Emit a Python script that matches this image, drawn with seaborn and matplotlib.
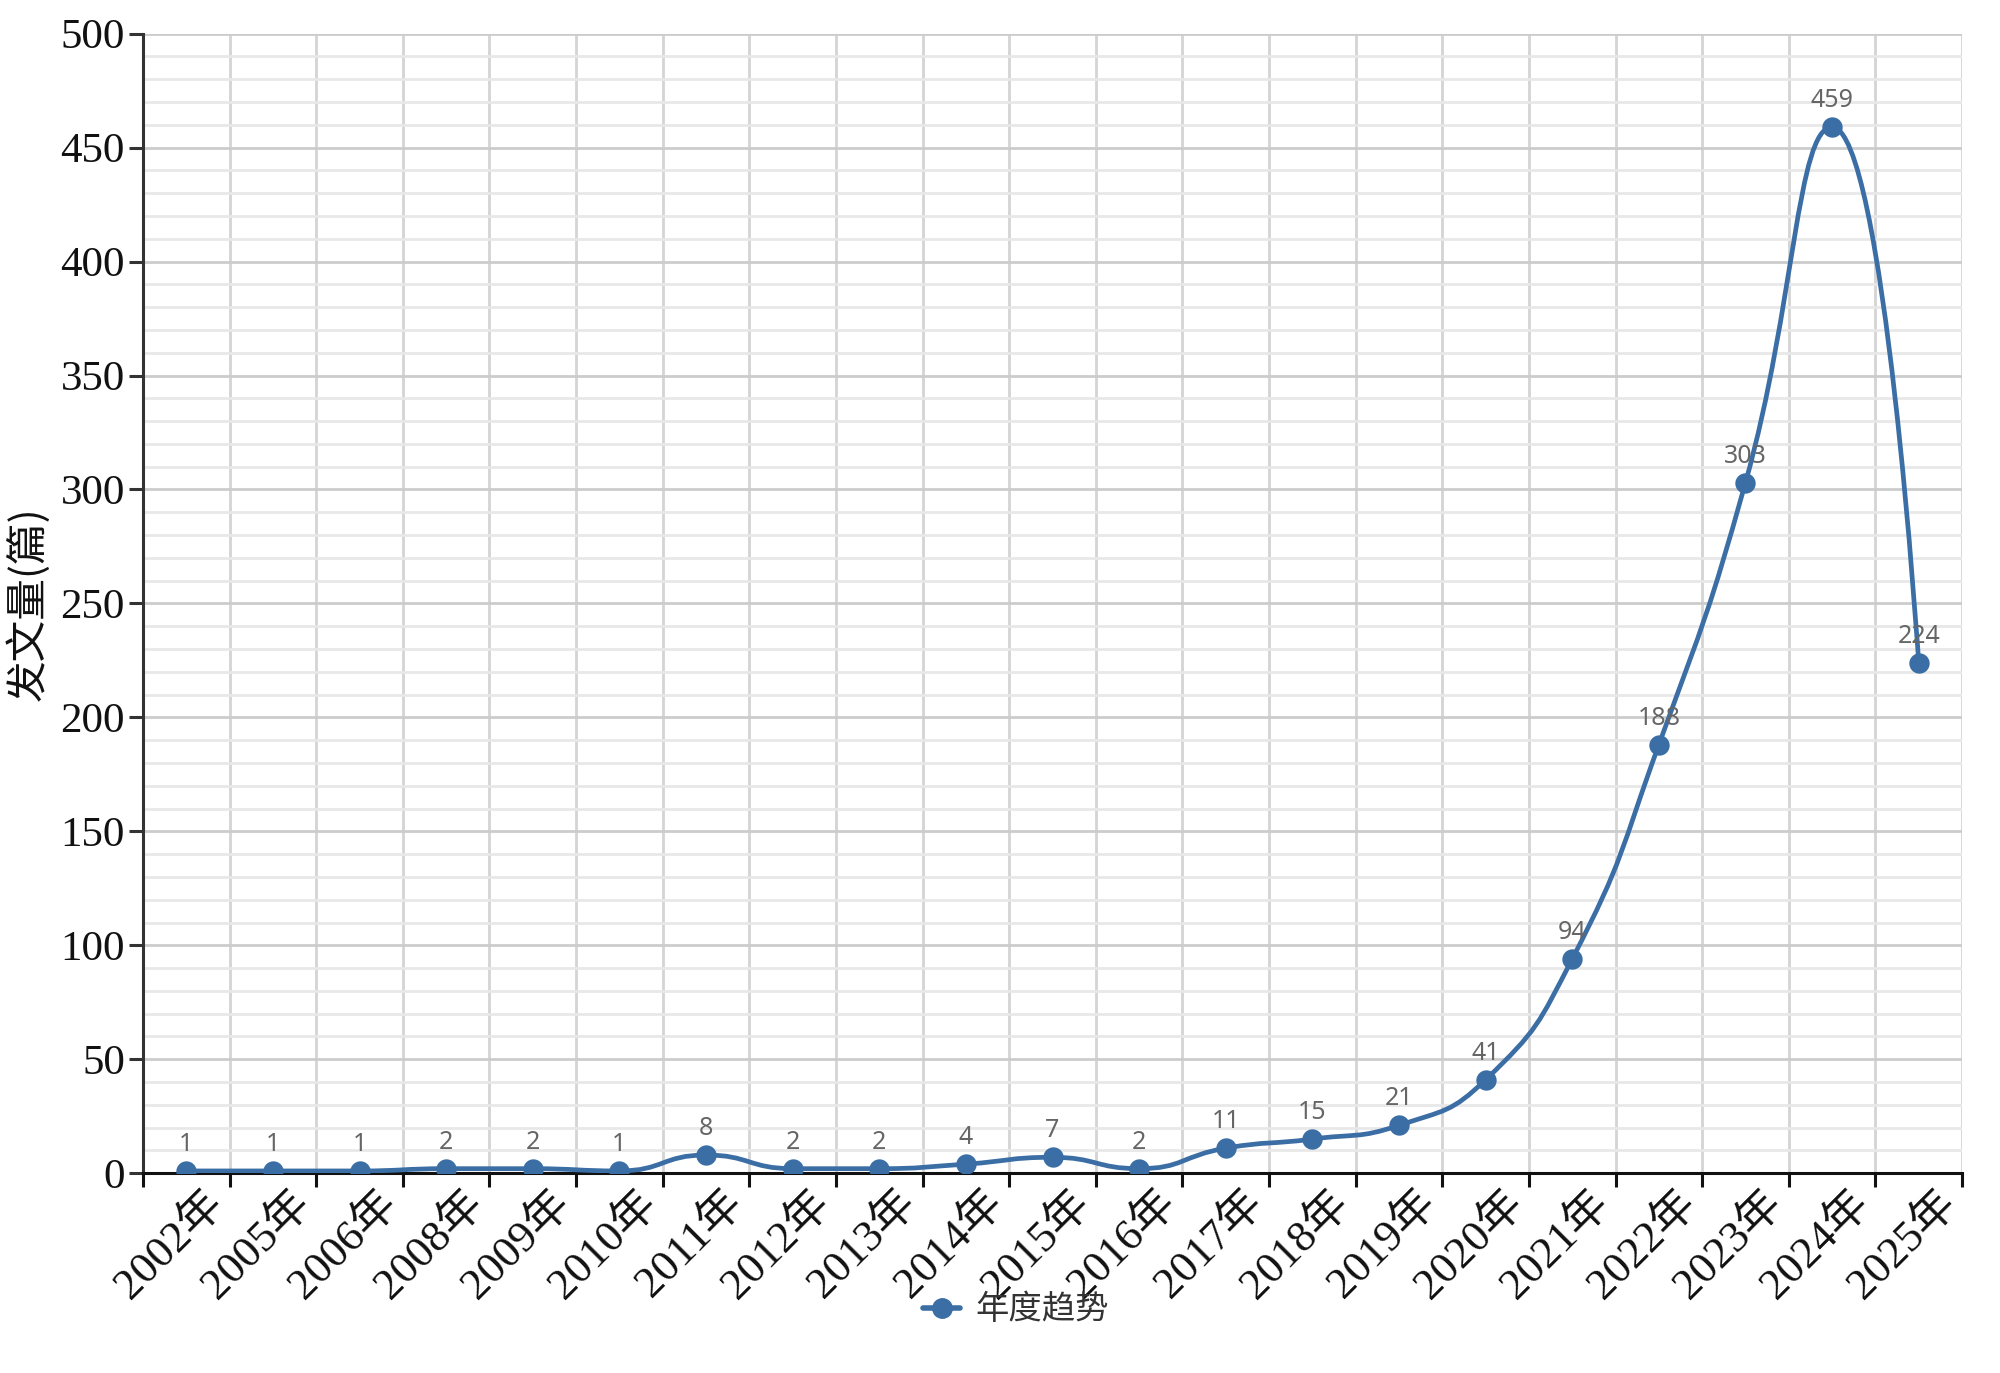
import numpy as np
import pandas as pd
import matplotlib
matplotlib.use("Agg")
import matplotlib.pyplot as plt
import matplotlib.transforms as mtrans
from matplotlib.path import Path
from matplotlib.patches import PathPatch
from matplotlib.lines import Line2D
from matplotlib.ticker import MultipleLocator, FixedLocator
import seaborn as sns

# datos
anios = ['2002年', '2005年', '2006年', '2008年', '2009年', '2010年', '2011年',
         '2012年', '2013年', '2014年', '2015年', '2016年', '2017年', '2018年',
         '2019年', '2020年', '2021年', '2022年', '2023年', '2024年', '2025年']
articulos = [1, 1, 1, 2, 2, 1, 8, 2, 2, 4, 7, 2, 11, 15, 21, 41, 94, 188, 303, 459, 224]
serie = '年度趋势'
etiqueta_y = '发文量(篇)'

COLOR = '#3b6ea5'

df = pd.DataFrame({'anio': anios, 'n': articulos})
df['pos'] = np.arange(len(df))

sns.set_theme(style='white')
plt.rcParams['font.family'] = ['Liberation Serif', 'Noto Sans CJK SC', 'DejaVu Sans']

fig = plt.figure(figsize=(20, 13.73), dpi=100)
ax = fig.add_axes([0.0715, 0.1455, 0.9095, 0.8300])


def acotar(v, a, b):
    return min(max(v, min(a, b)), max(a, b))


def curva_suave(xs, ys, sx, sy, smooth=0.5):
    # curva suave al estilo echarts, con puntos de control acotados (sin sobrepaso)
    px = list(np.asarray(xs, float) * sx)
    py = list(np.asarray(ys, float) * sy)
    n = len(px)
    verts = [(px[0], py[0])]
    codes = [Path.MOVETO]
    cp0 = (px[0], py[0])
    for i in range(1, n):
        x, y = px[i], py[i]
        if i == n - 1:
            cp1 = (x, y)
            sig = None
        else:
            xp, yp = px[i - 1], py[i - 1]
            xn, yn = px[i + 1], py[i + 1]
            vx, vy = xn - xp, yn - yp
            lp = np.hypot(x - xp, y - yp)
            ln = np.hypot(xn - x, yn - y)
            r = ln / (ln + lp)
            ncx = acotar(x + vx * smooth * r, xn, x)
            ncy = acotar(y + vy * smooth * r, yn, y)
            vx, vy = ncx - x, ncy - y
            c1x = acotar(x - vx * lp / ln, xp, x)
            c1y = acotar(y - vy * lp / ln, yp, y)
            vx, vy = x - c1x, y - c1y
            cp1 = (c1x, c1y)
            sig = (x + vx * ln / lp, y + vy * ln / lp)
        verts += [cp0, cp1, (x, y)]
        codes += [Path.CURVE4] * 3
        cp0 = sig
    verts = [(a / sx, b / sy) for a, b in verts]
    return Path(verts, codes)


n = len(df)
ancho_px = 1819.0 / n
alto_px = 1140.0 / 500
camino = curva_suave(df['pos'], df['n'], ancho_px, alto_px)
ax.add_patch(PathPatch(camino, facecolor='none', edgecolor=COLOR, lw=3.4, zorder=3,
                       capstyle='round', joinstyle='round'))

sns.scatterplot(data=df, x='pos', y='n', ax=ax, color=COLOR, s=215, edgecolor=COLOR,
                linewidth=0, zorder=4, legend=False)

for _, fila in df.iterrows():
    ax.annotate(str(fila['n']), (fila['pos'], fila['n']), xytext=(0, 10),
                textcoords='offset points', ha='center', va='bottom',
                fontsize=18, color='#666666', family=['Noto Sans', 'DejaVu Sans'], zorder=5)

ax.set_xlim(-0.5, n - 0.5)
ax.set_ylim(0, 500)

# ejes y rejilla
ax.yaxis.set_major_locator(MultipleLocator(50))
ax.yaxis.set_minor_locator(MultipleLocator(10))
ax.xaxis.set_major_locator(FixedLocator(np.arange(n)))
ax.xaxis.set_minor_locator(FixedLocator(np.arange(n + 1) - 0.5))
ax.set_xticklabels(anios)

ax.grid(False)
ax.grid(which='major', axis='y', color='#cccccc', lw=2.0, zorder=0)
ax.grid(which='minor', axis='y', color='#e8e8e8', lw=2.0, zorder=0)
ax.grid(which='minor', axis='x', color='#d4d4d4', lw=2.0, zorder=0)

for lado in ['top', 'right']:
    ax.spines[lado].set_visible(False)
ax.spines['left'].set_color('#333333')
ax.spines['left'].set_linewidth(2.2)
ax.spines['bottom'].set_color('#111111')
ax.spines['bottom'].set_linewidth(2.2)

ax.tick_params(axis='y', which='major', left=True, length=10, width=2.2, color='#333333',
               labelsize=31, pad=3, labelcolor='#111111')
ax.tick_params(axis='y', which='minor', left=False)
ax.tick_params(axis='x', which='major', bottom=False, length=0, labelsize=32,
               pad=17, labelcolor='#111111')
ax.tick_params(axis='x', which='minor', bottom=True, length=10, width=2.2, color='#111111')

desplaza = mtrans.ScaledTranslation(22 / 72, 0, fig.dpi_scale_trans)
for lbl in ax.get_xticklabels():
    lbl.set_rotation(45)
    lbl.set_ha('right')
    lbl.set_va('center')
    lbl.set_rotation_mode('anchor')
    lbl.set_transform(lbl.get_transform() + desplaza)

ax.set_xlabel('')
ax.set_ylabel(etiqueta_y, fontsize=30, color='#111111', labelpad=8,
              family=['Noto Sans CJK SC', 'DejaVu Sans'])

manija = Line2D([], [], color=COLOR, lw=4, marker='o', markersize=14,
                markerfacecolor=COLOR, markeredgecolor=COLOR)
leg = fig.legend([manija], [serie], loc='center', bbox_to_anchor=(0.508, 0.046),
                 frameon=False, handlelength=1.1, handletextpad=0.45,
                 prop={'family': ['Noto Sans CJK SC', 'DejaVu Sans'], 'size': 24})
for t in leg.get_texts():
    t.set_color('#333333')

fig.savefig('out.png', dpi=100)
